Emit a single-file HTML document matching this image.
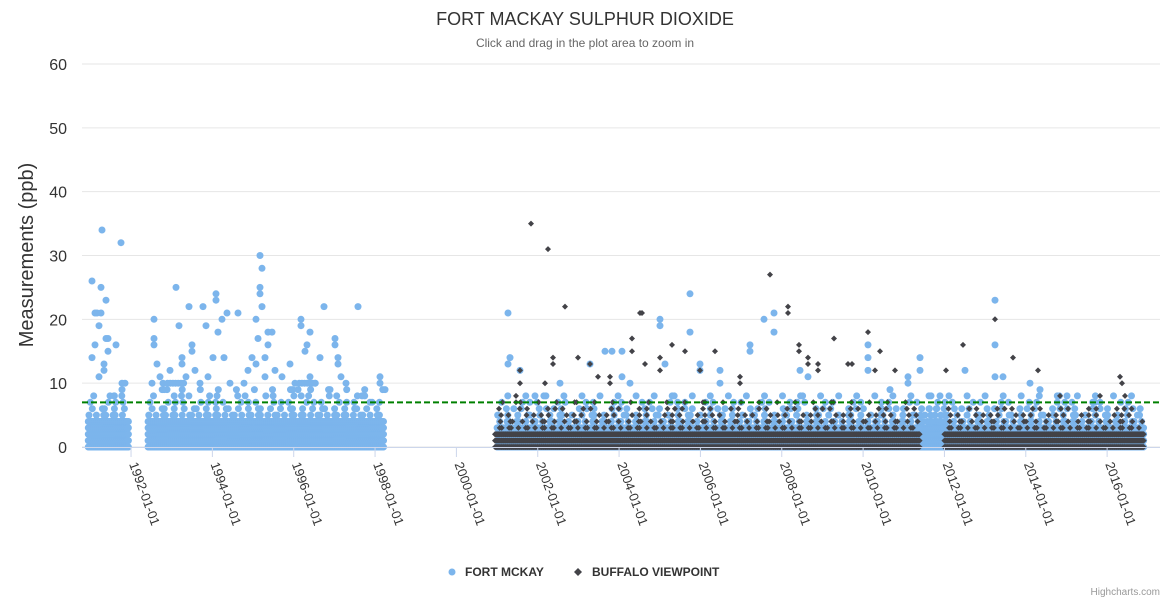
<!DOCTYPE html>
<html><head><meta charset="utf-8"><style>
body{margin:0;background:#fff;font-family:"Liberation Sans",sans-serif}
svg text{font-family:"Liberation Sans",sans-serif}
</style></head><body>
<svg id="chart" width="1170" height="600" xmlns="http://www.w3.org/2000/svg">
<text x="585" y="25" text-anchor="middle" font-size="18" fill="#333">FORT MACKAY SULPHUR DIOXIDE</text>
<text x="585" y="47" text-anchor="middle" font-size="12" fill="#666">Click and drag in the plot area to zoom in</text>
<g id="grid"></g>
<g id="plot"></g>
<g id="xaxis"></g>
<text transform="translate(33,255) rotate(-90)" text-anchor="middle" font-size="20" fill="#333">Measurements (ppb)</text>
<g>
<g><circle cx="452" cy="572" r="3.5" fill="#7cb5ec"/><text x="465" y="576" font-size="12" font-weight="bold" fill="#333">FORT MCKAY</text></g>
<g><path d="M578 568 L582 572 L578 576 L574 572Z" fill="#434348"/><text x="592" y="576" font-size="12" font-weight="bold" fill="#333">BUFFALO VIEWPOINT</text></g>
</g>
<text x="1160" y="595" text-anchor="end" font-size="10" fill="#999">Highcharts.com</text>
</svg>
<script>
// band segments: start year, end year, dense top, sparse top
const fmSegStart=[1990.95,1992.42,2001.0,2011.4];
const fmSegEnd=[1991.95,1998.22,2016.9,2012.0];
const fmSegDense=[4,4,3,3];
const fmSegSparse=[8,10,8,6];
const bvSegStart=[2000.95,2012.0];
const bvSegEnd=[2011.4,2016.9];
const bvSegDense=[2,2];
const bvSegSparse=[7,6];
// outlier readings: pixel-read position and value
const fmPeakX=[92,92,95,95,97,99,99,101,101,102,104,104,106,106,108,108,110,114,116,121,122,122,125,152,154,154,154,157,160,163,167,170,176,179,182,182,186,189,192,192,195,200,203,206,208,213,216,216,218,222,224,227,230,238,244,248,252,256,256,258,260,260,260,262,262,265,265,268,268,272,275,282,290,295,298,301,301,305,307,310,310,315,320,324,330,335,335,338,338,341,346,358,362,370,380,380,385,508,508,510,520,535,560,590,605,612,622,622,630,660,660,665,690,690,700,700,720,720,750,750,764,774,774,800,808,868,868,868,890,908,908,920,920,940,965,995,995,995,1003,1030,1040,1067,1095];
const fmPeakVals=[26,14,21,16,21,11,19,25,21,34,12,13,23,17,15,17,8,8,16,32,9,10,10,10,20,17,16,13,11,10,9,12,25,19,13,14,11,22,16,15,12,10,22,19,11,14,24,23,18,20,14,21,10,21,10,12,14,20,13,17,30,25,24,28,22,14,11,16,18,18,12,11,13,10,9,19,20,15,16,11,18,10,14,22,9,16,17,13,14,11,10,22,8,7,11,10,9,21,13,14,12,8,10,13,15,15,15,11,10,20,19,13,24,18,12,13,12,10,16,15,20,21,18,12,11,16,14,12,9,10,11,14,12,8,12,23,16,11,11,10,9,8,7];
const bvPeakX=[516,516,520,520,531,545,548,553,553,565,578,590,598,610,610,632,632,640,642,645,660,660,672,685,700,715,740,740,770,788,788,799,799,808,808,818,818,834,848,852,868,875,880,895,946,963,995,1013,1038,1060,1100,1120,1122,1125];
const bvPeakVals=[7,8,10,12,35,10,31,14,13,22,14,13,11,10,11,17,15,21,21,13,14,12,16,15,12,15,11,10,27,22,21,16,15,13,14,13,12,17,13,13,18,12,15,12,12,16,20,14,12,8,8,11,10,8];
const yTicks=[0,10,20,30,40,50,60];
const xTickYears=[1992,1994,1996,1998,2000,2002,2004,2006,2008,2010,2012,2014,2016];

const NS="http://www.w3.org/2000/svg";
const X0=82,X1=1160,Y0=447,YT=64;
const xs=yr=>49.7+(yr-1990)*40.67;
const xp=px=>(px-49.7)/40.67+1990;
const ys=v=>Y0-(v/60)*(Y0-YT);
function mk(tag,at,parent){const e=document.createElementNS(NS,tag);for(const k in at)e.setAttribute(k,at[k]);parent.appendChild(e);return e;}
const grid=document.getElementById('grid'),plot=document.getElementById('plot'),xa=document.getElementById('xaxis');
yTicks.forEach(t=>{
  const l=mk('line',{x1:X0,x2:X1,y1:ys(t),y2:ys(t),stroke:'#e6e6e6'},grid);
  
  
  const tx=mk('text',{x:67,y:ys(t)+6,'text-anchor':'end','font-size':'16',fill:'#333'},grid);
  tx.textContent=t;
  
  
});
mk('line',{x1:X0,x2:X1,y1:Y0+0.5,y2:Y0+0.5,stroke:'#ccd6eb'},xa);
xTickYears.forEach(y=>{
  const x=xs(y);
  mk('line',{x1:x,x2:x,y1:Y0,y2:Y0+10,stroke:'#ccd6eb'},xa);
  const tx=mk('text',{x:x-2,y:Y0+17,'font-size':'13',fill:'#333',transform:`rotate(70 ${x-2} ${Y0+17})`},xa);
  tx.textContent=y+'-01-01';
  
  
});
function band(starts,ends,dense,sparse,draw){
  starts.forEach((s,i)=>{
    let k=0;
    for(let yr=s;yr<=ends[i];yr+=6/365,k++){
      for(let v=0;v<=sparse[i];v++){
        if(v>dense[i]){
          const m=4+4*(v-dense[i]);
          if(((k*7+v*13+Math.floor(k/m)*3)%m)!==0)continue;
        }
        draw(xs(yr),ys(v));
      }
    }
  });
}
const fmG=mk('g',{fill:'#7cb5ec'},plot);


const bvG=mk('g',{fill:'#434348'},plot);


const circ=(x,y)=>mk('circle',{cx:x.toFixed(1),cy:y.toFixed(1),r:3.5},fmG);
const diam=(x,y)=>mk('path',{d:`M${x.toFixed(1)} ${(y-3).toFixed(1)}l3 3l-3 3l-3 -3z`},bvG);
band(fmSegStart,fmSegEnd,fmSegDense,fmSegSparse,circ);
fmPeakX.forEach((p,i)=>circ(xs(xp(p)),ys(fmPeakVals[i])));
band(bvSegStart,bvSegEnd,bvSegDense,bvSegSparse,diam);
bvPeakX.forEach((p,i)=>diam(xs(xp(p)),ys(bvPeakVals[i])));
const th=mk('line',{x1:X0,x2:X1,y1:ys(7),y2:ys(7),stroke:'#008000','stroke-width':2,'stroke-dasharray':'6,3'},plot);


</script>
</body></html>
